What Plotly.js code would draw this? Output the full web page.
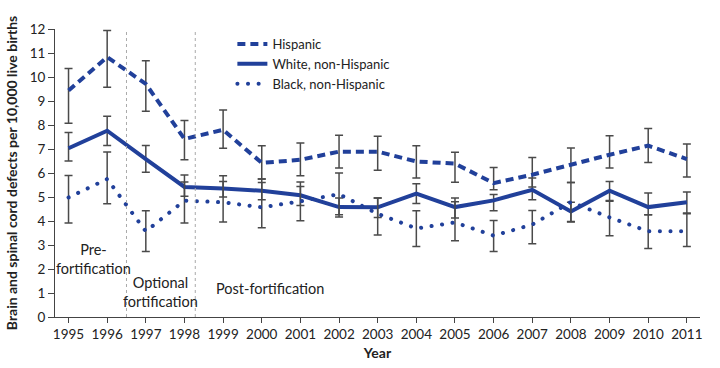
<!DOCTYPE html>
<html>
<head>
<meta charset="utf-8">
<script src="https://cdn.plot.ly/plotly-3.0.1.min.js"></script>
<style>html,body{margin:0;padding:0;background:#fff;}#chart{width:720px;height:368px;}</style>
</head>
<body>
<div id="chart"></div>
<script>
const years = [1995,1996,1997,1998,1999,2000,2001,2002,2003,2004,2005,2006,2007,2008,2009,2010,2011];

const hispanic     = [9.44,10.83,9.71,7.42,7.80,6.42,6.55,6.89,6.89,6.48,6.39,5.58,5.93,6.35,6.76,7.14,6.58];
const hispanicLow  = [8.07,9.57,8.57,6.55,7.03,5.75,5.89,6.21,6.11,5.79,5.61,5.30,5.42,5.60,6.21,6.44,5.83];
const hispanicHigh = [10.35,11.94,10.68,8.19,8.63,7.14,7.25,7.57,7.53,7.14,6.86,6.23,6.65,7.04,7.55,7.85,7.21];

const white     = [7.03,7.76,6.58,5.42,5.35,5.26,5.07,4.58,4.57,5.14,4.58,4.86,5.30,4.40,5.26,4.58,4.78];
const whiteLow  = [6.50,7.15,6.03,5.03,5.00,4.89,4.65,4.26,4.15,4.73,4.12,4.43,4.89,3.98,4.82,4.26,4.33];
const whiteHigh = [7.69,8.36,7.15,5.92,5.89,5.75,5.44,4.96,4.96,5.55,4.96,5.10,5.79,4.78,5.65,5.17,5.21];

const black     = [4.98,5.75,3.57,4.85,4.78,4.57,4.82,5.12,4.30,3.69,3.94,3.39,3.85,4.79,4.15,3.57,3.57];
const blackLow  = [3.92,4.72,2.73,3.92,3.96,3.72,4.01,4.17,3.42,2.94,3.18,2.73,3.05,3.96,3.39,2.85,2.94];
const blackHigh = [5.90,6.87,4.43,5.63,5.65,5.60,5.63,6.00,4.96,4.43,4.80,4.02,4.44,5.60,4.85,4.26,4.30];

const periodBreaks = [1996.5, 1998.28];

const blue = '#21409a';
const errColor = '#4a4a4a';

function errs(v, lo, hi) {
  return {
    type: 'data', symmetric: false,
    array: hi.map((h, i) => h - v[i]),
    arrayminus: lo.map((l, i) => v[i] - l),
    color: errColor, thickness: 1.5, width: 4
  };
}

const traces = [
  {x: years, y: hispanic, name: 'Hispanic', mode: 'lines', type: 'scatter',
   line: {color: blue, width: 4, dash: '8px,5px'}, error_y: errs(hispanic, hispanicLow, hispanicHigh)},
  {x: years, y: white, name: 'White, non-Hispanic', mode: 'lines', type: 'scatter',
   line: {color: blue, width: 4}, error_y: errs(white, whiteLow, whiteHigh)},
  {x: years, y: black, name: 'Black, non-Hispanic', mode: 'lines', type: 'scatter',
   line: {color: blue, width: 4, dash: '0.1px,10.5px'}, error_y: errs(black, blackLow, blackHigh)}
];

const font = 'Lato, "Open Sans", sans-serif';

const layout = {
  width: 720, height: 368,
  margin: {l: 55, r: 20, t: 29, b: 51},
  paper_bgcolor: '#fff', plot_bgcolor: '#fff',
  font: {family: font, color: '#222', size: 13},
  showlegend: true,
  legend: {x: 0.275, y: 1.0, xanchor: 'left', yanchor: 'top', bgcolor: 'rgba(0,0,0,0)',
           font: {family: font, size: 13, color: '#222'}, tracegroupgap: 0},
  xaxis: {
    range: [1994.65, 2011.34], tickmode: 'array', tickvals: years, ticktext: years.map(String),
    showgrid: false, zeroline: false, showline: true, linecolor: '#444', linewidth: 1,
    ticks: 'outside', ticklen: 5, tickcolor: '#444',
    tickfont: {family: font, size: 13.5, color: '#222'},
    title: {text: '<b>Year</b>', font: {family: font, size: 14, color: '#222'}, standoff: 6}
  },
  yaxis: {
    range: [0, 12], dtick: 1, tick0: 0,
    showgrid: false, zeroline: false, showline: true, linecolor: '#444', linewidth: 1,
    ticks: 'outside', ticklen: 6, tickcolor: '#444',
    tickfont: {family: font, size: 13.5, color: '#222'},
    title: {text: '<b>Brain and spinal cord defects per 10,000 live births</b>',
            font: {family: font, size: 14, color: '#222'}, standoff: 8}
  },
  shapes: periodBreaks.map(b => ({
    type: 'line', xref: 'x', yref: 'y', x0: b, x1: b, y0: 0, y1: 12,
    line: {color: '#aaa', width: 1, dash: 'dot'}
  })),
  annotations: [
    {x: 1995.65, y: 2.4, xref: 'x', yref: 'y', text: 'Pre-<br>fortification', showarrow: false,
     xanchor: 'center', yanchor: 'middle', align: 'center', font: {family: font, size: 14.5, color: '#222'}},
    {x: 1997.37, y: 1.05, xref: 'x', yref: 'y', text: 'Optional<br>fortification', showarrow: false,
     xanchor: 'center', yanchor: 'middle', align: 'center', font: {family: font, size: 14.5, color: '#222'}},
    {x: 1998.77, y: 1.18, xref: 'x', yref: 'y', text: 'Post-fortification', showarrow: false,
     xanchor: 'left', yanchor: 'middle', align: 'left', font: {family: font, size: 14.5, color: '#222'}}
  ]
};

Plotly.newPlot('chart', traces, layout, {displayModeBar: false, staticPlot: true}).then(gd => {
  const traceEls = gd.querySelectorAll('.scatterlayer .trace');
  if (traceEls[2]) traceEls[2].querySelectorAll('path.js-line').forEach(p => p.style.strokeLinecap = 'round');
  const legendItems = gd.querySelectorAll('.legend .traces');
  if (legendItems[2]) legendItems[2].querySelectorAll('path.js-line').forEach(p => p.style.strokeLinecap = 'round');
});
</script>
</body>
</html>
